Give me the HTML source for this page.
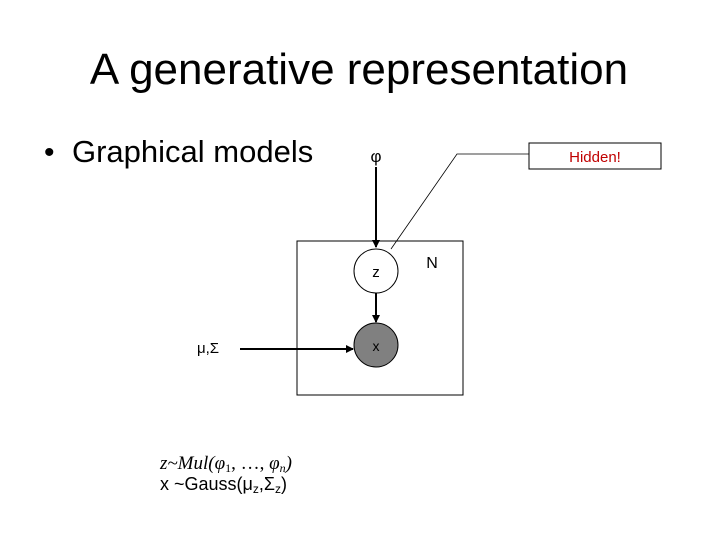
<!DOCTYPE html>
<html><head><style>
body{margin:0;background:#fff;}
svg{display:block;font-family:"Liberation Sans",Arial,sans-serif;}
</style></head><body>
<svg width="720" height="540" viewBox="0 0 720 540">
<defs><marker id="a" markerWidth="8" markerHeight="8" refX="7" refY="4" orient="auto" markerUnits="userSpaceOnUse"><path d="M0,0 L8,4 L0,8z" fill="#000"/></marker></defs>
<text x="359" y="84" font-size="44" text-anchor="middle">A generative representation</text>
<text x="44" y="162" font-size="30">•</text>
<text x="72" y="162" font-size="31">Graphical models</text>
<rect x="297" y="241" width="166" height="154" fill="none" stroke="#000" stroke-width="1"/>
<text x="376" y="162" font-size="17" text-anchor="middle">φ</text>
<line x1="376" y1="167" x2="376" y2="247" stroke="#000" stroke-width="2" marker-end="url(#a)"/>
<circle cx="376" cy="271" r="22" fill="#fff" stroke="#000" stroke-width="1"/>
<text x="376" y="277" font-size="15" text-anchor="middle">z</text>
<line x1="376" y1="293" x2="376" y2="322" stroke="#000" stroke-width="2" marker-end="url(#a)"/>
<circle cx="376" cy="345" r="22" fill="#808080" stroke="#000" stroke-width="1"/>
<text x="376" y="351" font-size="14" text-anchor="middle">x</text>
<text x="208" y="353" font-size="15" text-anchor="middle">μ,Σ</text>
<line x1="240" y1="349" x2="353" y2="349" stroke="#000" stroke-width="2" marker-end="url(#a)"/>
<text x="432" y="268" font-size="16" text-anchor="middle">N</text>
<polyline points="529,154 457,154 391,249" fill="none" stroke="#000" stroke-width="0.8"/>
<rect x="529" y="143" width="132" height="26" fill="#fff" stroke="#000" stroke-width="1"/>
<text x="595" y="162" font-size="15" fill="#c00000" text-anchor="middle">Hidden!</text>
<text x="160" y="469" font-size="19" font-family="Liberation Serif,serif" font-style="italic">z~Mul(φ<tspan font-size="12" dy="3" font-style="normal">1</tspan><tspan dy="-3" font-style="normal">, …, </tspan>φ<tspan font-size="12" dy="3">n</tspan><tspan dy="-3">)</tspan></text>
<text x="160" y="490" font-size="18">x ~Gauss(μ<tspan font-size="12" dy="3">z</tspan><tspan dy="-3">,Σ</tspan><tspan font-size="12" dy="3">z</tspan><tspan dy="-3">)</tspan></text>
</svg>
</body></html>
